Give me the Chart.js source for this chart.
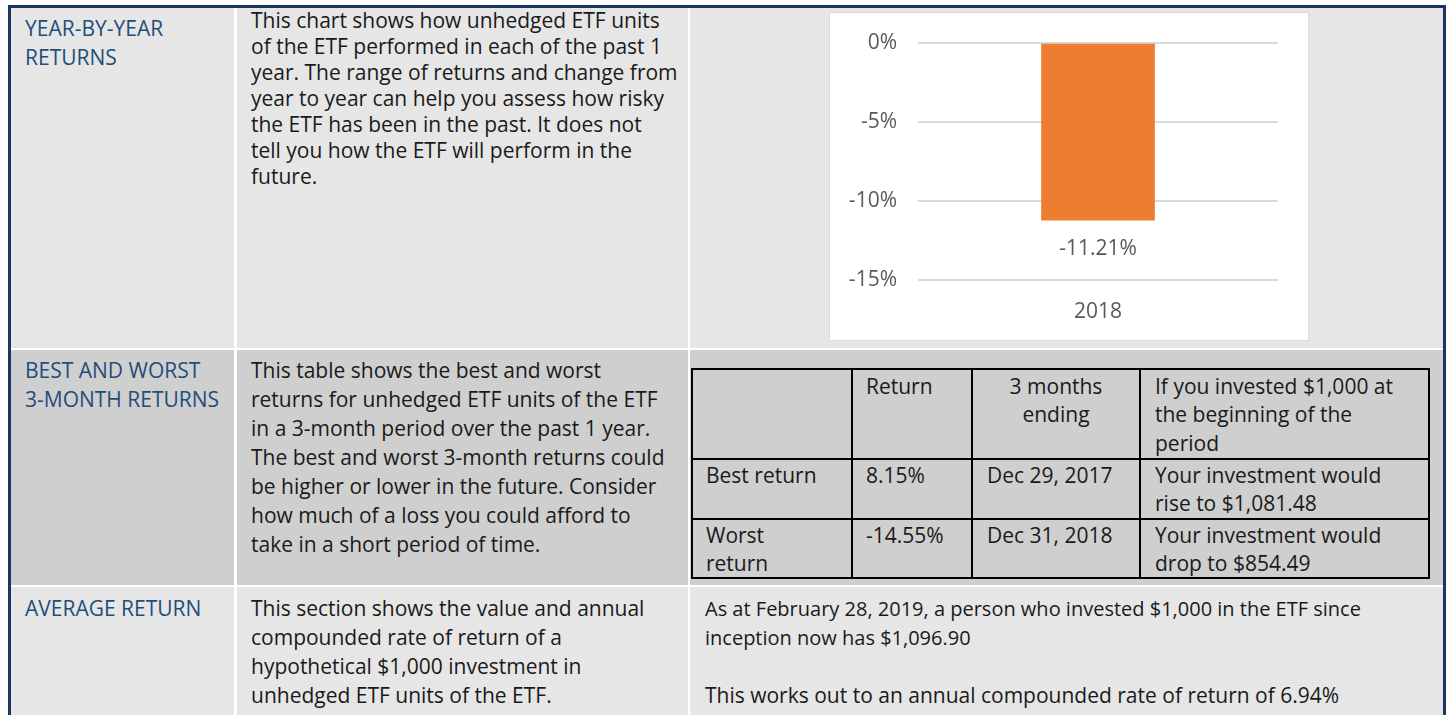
<!DOCTYPE html>
<html>
<head>
<meta charset="utf-8">
<script src="https://cdn.jsdelivr.net/npm/chart.js@4"></script>
<style>
  html, body { margin: 0; padding: 0; background: #fff; width: 1449px; height: 715px; overflow: hidden; }
  body { font-family: "Open Sans", "Noto Sans", sans-serif; font-size: 21px; color: #1a1a1a; }
  .abs { position: absolute; }
  .cell { position: absolute; }
  .r1 { background: #E6E6E6; }
  .r2 { background: #CFCFCF; }
  .txt { position: absolute; white-space: nowrap; }
  .hdr { color: #1F4E79; }
  .ln { position: absolute; background: #000; }
</style>
</head>
<body>
<!-- outer border -->
<div class="abs" style="left:8px;top:5px;width:1438px;height:760px;background:#17375E;"></div>
<div class="abs" style="left:11px;top:8px;width:1432px;height:760px;background:#fff;"></div>

<!-- row 1 -->
<div class="cell r1" style="left:11px;top:8px;width:223px;height:340px;"></div>
<div class="cell r1" style="left:237px;top:8px;width:451px;height:340px;"></div>
<div class="cell r1" style="left:690px;top:8px;width:753px;height:340px;"></div>
<!-- row 2 -->
<div class="cell r2" style="left:11px;top:350px;width:223px;height:235px;"></div>
<div class="cell r2" style="left:237px;top:350px;width:451px;height:235px;"></div>
<div class="cell r2" style="left:690px;top:350px;width:753px;height:235px;"></div>
<!-- row 3 -->
<div class="cell r1" style="left:11px;top:587px;width:223px;height:200px;"></div>
<div class="cell r1" style="left:237px;top:587px;width:451px;height:200px;"></div>
<div class="cell r1" style="left:690px;top:587px;width:753px;height:200px;"></div>

<!-- row 1 text -->
<div class="txt hdr" style="left:25px;top:13.5px;line-height:29px;">YEAR-BY-YEAR<br>RETURNS</div>
<div class="txt" style="left:251px;top:7px;line-height:26px;">This chart shows how unhedged ETF units<br>of the ETF performed in each of the past 1<br>year. The range of returns and change from<br>year to year can help you assess how risky<br>the ETF has been in the past. It does not<br>tell you how the ETF will perform in the<br>future.</div>

<!-- chart box -->
<div class="abs" style="left:829px;top:12px;width:478px;height:327px;border:1px solid #D9D9D9;background:#fff;">
  <canvas id="c" width="478" height="327" style="display:block;width:478px;height:327px;"></canvas>
</div>

<!-- row 2 text -->
<div class="txt hdr" style="left:25px;top:355.5px;line-height:29px;">BEST AND WORST<br>3-MONTH RETURNS</div>
<div class="txt" style="left:251px;top:355.5px;line-height:29px;">This table shows the best and worst<br>returns for unhedged ETF units of the ETF<br>in a 3-month period over the past 1 year.<br>The best and worst 3-month returns could<br>be higher or lower in the future. Consider<br>how much of a loss you could afford to<br>take in a short period of time.</div>

<!-- inner table lines -->
<div class="ln" style="left:691px;top:368px;width:739px;height:2px;"></div>
<div class="ln" style="left:691px;top:458px;width:739px;height:2px;"></div>
<div class="ln" style="left:691px;top:518px;width:739px;height:2px;"></div>
<div class="ln" style="left:691px;top:577px;width:739px;height:2px;"></div>
<div class="ln" style="left:691px;top:368px;width:2px;height:211px;"></div>
<div class="ln" style="left:851px;top:368px;width:2px;height:211px;"></div>
<div class="ln" style="left:971px;top:368px;width:2px;height:211px;"></div>
<div class="ln" style="left:1139px;top:368px;width:2px;height:211px;"></div>
<div class="ln" style="left:1428px;top:368px;width:2px;height:211px;"></div>

<!-- inner table text -->
<div class="txt" style="left:866px;top:371.75px;line-height:28.5px;">Return</div>
<div class="txt" style="left:973px;width:166px;text-align:center;top:371.75px;line-height:28.5px;">3 months<br>ending</div>
<div class="txt" style="left:1155px;top:371.75px;line-height:28.5px;">If you invested $1,000 at<br>the beginning of the<br>period</div>

<div class="txt" style="left:706px;top:460.75px;line-height:28.5px;">Best return</div>
<div class="txt" style="left:866px;top:460.75px;line-height:28.5px;">8.15%</div>
<div class="txt" style="left:987px;top:460.75px;line-height:28.5px;">Dec 29, 2017</div>
<div class="txt" style="left:1155px;top:460.75px;line-height:28.5px;">Your investment would<br>rise to $1,081.48</div>

<div class="txt" style="left:706px;top:520.75px;line-height:28.5px;">Worst<br>return</div>
<div class="txt" style="left:866px;top:520.75px;line-height:28.5px;">-14.55%</div>
<div class="txt" style="left:987px;top:520.75px;line-height:28.5px;">Dec 31, 2018</div>
<div class="txt" style="left:1155px;top:520.75px;line-height:28.5px;">Your investment would<br>drop to $854.49</div>

<!-- row 3 text -->
<div class="txt hdr" style="left:25px;top:593.5px;line-height:29px;">AVERAGE RETURN</div>
<div class="txt" style="left:251px;top:593.5px;line-height:29px;">This section shows the value and annual<br>compounded rate of return of a<br>hypothetical $1,000 investment in<br>unhedged ETF units of the ETF.</div>
<div class="txt" style="left:705px;top:593.5px;line-height:29px;font-size:20px;">As at February 28, 2019, a person who invested $1,000 in the ETF since<br>inception now has $1,096.90<br><br><span style="font-size:21px;">This works out to an annual compounded rate of return of 6.94%</span></div>

<script>
// ---- data ----
const categories = ['2018'];
const returns = [-11.21];
const yTickValues = [0, -5, -10, -15];

const FONT = '"Open Sans", "Noto Sans", sans-serif';
const LABEL_COLOR = '#595959';
const LABEL_SIZE = 21;

const valueLabels = {
  id: 'valueLabels',
  afterDatasetsDraw(chart) {
    const ctx = chart.ctx;
    const meta = chart.getDatasetMeta(0);
    ctx.save();
    ctx.font = LABEL_SIZE + 'px ' + FONT;
    ctx.fillStyle = LABEL_COLOR;
    ctx.textAlign = 'center';
    ctx.textBaseline = 'middle';
    meta.data.forEach((bar, i) => {
      ctx.fillText(returns[i].toFixed(2) + '%', bar.x, bar.y + 29);
    });
    ctx.restore();
  }
};

new Chart(document.getElementById('c'), {
  type: 'bar',
  data: {
    labels: categories,
    datasets: [{ data: returns, backgroundColor: '#ED7D31', borderWidth: 0, barThickness: 113 }]
  },
  options: {
    responsive: false,
    animation: false,
    layout: { padding: { top: 30, right: 30, left: 0, bottom: 0 } },
    plugins: { legend: { display: false }, tooltip: { enabled: false } },
    scales: {
      x: {
        grid: { display: false, drawTicks: false },
        border: { display: false },
        ticks: { color: LABEL_COLOR, font: { family: FONT, size: LABEL_SIZE }, padding: 19 },
        afterFit: s => { s.height = 60; }
      },
      y: {
        min: -15, max: 0,
        afterBuildTicks: s => { s.ticks = yTickValues.map(v => ({ value: v })); },
        ticks: { color: LABEL_COLOR, font: { family: FONT, size: LABEL_SIZE }, padding: 21, callback: v => v + '%' },
        grid: { color: '#D9D9D9', lineWidth: 2, drawTicks: false },
        border: { display: false },
        afterFit: s => { s.width = 88; s.paddingTop = 0; s.paddingBottom = 0; }
      }
    }
  },
  plugins: [valueLabels]
});
</script>
</body>
</html>
